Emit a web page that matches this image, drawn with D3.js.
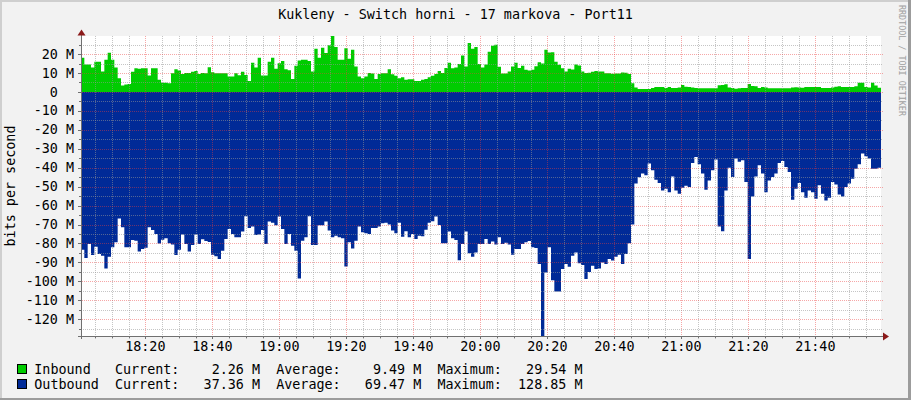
<!DOCTYPE html>
<html><head><meta charset="utf-8">
<script src="https://cdn.jsdelivr.net/npm/d3@7/dist/d3.min.js"></script>
<style>
body{margin:0;background:#f2f2f2;overflow:hidden}
text{font-family:"DejaVu Sans Mono",monospace;white-space:pre}
</style>
</head><body>
<svg id="chart" width="911" height="400"></svg>
<script>
const title = "Kukleny - Switch horni - 17 markova - Port11";
const yAxisTitle = "bits per second";
const credit = "RRDTOOL / TOBI OETIKER";
const startTime = Date.UTC(2024, 0, 1, 18, 0, 48);
const endTime = Date.UTC(2024, 0, 1, 21, 59, 36);

// Mbit/s, 240 evenly spaced samples across the time window
const inbound = [
18,14.5,14.5,12.9,15.9,15.9,10.8,17,20.7,17,
12.9,7.2,3.4,3.9,4.2,10.6,12.5,12.2,12.5,12.5,
8.7,12.5,12.5,6.4,4.9,4.9,4.6,9.9,12,11.3,
9.5,10,10,10.6,11,9.5,10,9.9,13,10.4,
9.9,9.9,9.9,9.9,8.1,8.1,9.9,8.8,10.6,9,
5.8,15.4,12.9,18,8.7,8.7,16,18,12.2,15.2,
16.4,12,11.5,6.9,13.8,16.6,17,17,16.4,10.8,
22.8,18,23.3,20.5,24.7,29.54,23.7,17,17,23.1,
17.5,22.3,13.4,8.1,7.2,8.1,10,9.7,6.9,9.5,
9.9,9.9,12,9.4,8.5,7.2,7.8,6.4,6.7,6.7,
5.8,5.8,6.4,6.9,7.8,8.5,9.5,11,10,12.7,
15.4,12.5,12.9,14.7,19.3,13.4,25.8,22.8,23.7,14.7,
12.9,14.5,21.2,24.4,24.9,13.3,9.7,9.7,10.8,13.4,
15.4,12.7,13.8,11.7,11.3,11.7,13.6,15.7,15,22.3,
20.8,21,15.9,14.3,12.5,10.8,12.2,11.8,14.5,14,
10.8,10,10.2,10.6,11,10.8,10.8,9.9,9.9,9.6,
9.7,9.7,10.3,10.2,9.5,4.6,2.3,1.6,1.6,1.6,
1.6,2.1,2.6,2.6,2.6,2.1,2.6,2.1,2.1,2.4,
3.7,2.8,2.6,2.3,2.1,1.9,1.9,1.9,1.9,1.9,
1.9,3.5,3.7,4.0,2.4,2.1,1.7,2.0,2.1,2.1,
4.2,3.2,3.0,2.1,2.6,2.3,1.9,1.9,1.9,1.9,
1.9,1.9,1.9,2.3,2.5,2.3,2.2,2.6,2.6,2.6,
2.6,2.6,2.1,2.1,2.1,2.4,2.8,3.0,2.6,2.6,
2.6,2.6,3.0,4.8,4.8,2.6,2.3,4.8,3.4,2.26
];
const outbound = [
83.3,87.7,80.3,86.1,81.7,85.6,86.5,93.2,87,82,
79.4,66.8,71.4,82,82,78.2,78.5,84.2,82.9,82.2,
71.4,72.9,75,80,78,77.3,79.9,80.6,86.1,83.3,
75.3,80.3,84.2,80.8,75.3,80.3,77.8,78.7,79.2,85.9,
86.8,88.2,83.8,77.6,72.3,75,76.7,76.7,73.7,65.6,
71.8,71.1,75.5,75.2,72.9,80.3,68.4,69.1,70.4,65.8,
72.3,80.3,75,81.2,83.8,98.5,78.5,76.7,65.6,80.8,
80.8,70.4,70.4,68.4,73.2,76.7,75.9,76.7,77.3,92.1,
79.4,82.6,78.5,71.1,74.1,74.6,75,71.8,71.8,71.1,
69.3,69,70,73.2,74.6,69,76.4,73.6,76.7,75,
77.6,75.9,76.2,72.7,69,68.3,65.8,70.2,79.9,79.9,
73.7,77.3,78.2,88.8,80.3,73.7,85.1,87,84.7,80.3,
80.3,77.6,80.3,79,80.6,76.7,80.3,79.6,80.6,85.9,
82.9,82.9,80.3,79.4,78.7,82,82.4,90.9,128.85,95.3,
82,99.4,105.4,105.4,93.5,90.9,92.3,86.5,84.7,90.5,
91.4,98.8,95,91.8,93.5,93.2,90,90.9,88.2,89,
87,85.9,90.9,85.6,79.9,70,48.4,45,43.1,44,
37.8,41.4,46.3,48.1,52,51.1,52.9,44.6,52,53.8,
50.6,49.5,50.2,37.5,34.3,38.2,43.1,51.6,46.7,41.4,
35.7,71.1,73.6,52,40,44.9,35.2,36.9,36.1,47.6,
88.2,55.2,44.6,38.7,43.1,52.9,46.7,44.9,43.1,37.5,
36.4,39.6,42.3,56.9,51.1,48.1,52.9,55.9,52,52.9,
56.4,49.3,53.8,57.3,55.9,47.6,48.8,54.1,55.2,50.2,
48.4,45.8,40.5,38.2,32.5,33.9,35.2,40.5,40.5,40
];
const yMajorTicks = [20,10,0,-10,-20,-30,-40,-50,-60,-70,-80,-90,-100,-110,-120];
const yMinorTicks = [25,15,5,-5,-15,-25,-35,-45,-55,-65,-75,-85,-95,-105,-115,-125];
const seriesNames = ["Inbound","Outbound"];
const seriesColors = ["#00CC00","#002A97"];
const currentVals = ["2.26","37.36"];
const averageVals = ["9.49","69.47"];
const maximumVals = ["29.54","128.85"];
const yMin = -128.85, yMax = 29.54;

const svg = d3.select("#chart");
const W = 911, H = 400;
const FS = 13.4;

// frame
svg.append("rect").attr("width",W).attr("height",H).attr("fill","#f2f2f2");
svg.append("rect").attr("x",0).attr("y",0).attr("width",W).attr("height",2).attr("fill","#cfcfcf");
svg.append("rect").attr("x",0).attr("y",0).attr("width",2).attr("height",H).attr("fill","#cfcfcf");
svg.append("rect").attr("x",W-3).attr("y",0).attr("width",3).attr("height",H).attr("fill","#9c9c9c");
svg.append("rect").attr("x",0).attr("y",H-2).attr("width",W).attr("height",2).attr("fill","#9c9c9c");

const L = 81, R = 881, T = 36, B = 336;
const x = d3.scaleUtc().domain([startTime, endTime]).range([L, R]);
const y = d3.scaleLinear().domain([yMin, yMax]).range([B, T]);

svg.append("rect").attr("x",L).attr("y",T).attr("width",R-L).attr("height",B-T).attr("fill","#ffffff");

const step = (endTime - startTime) / inbound.length;
const tOf = i => startTime + i*step;
const inData = inbound.map((v,i)=>({t:tOf(i), v}));
inData.push({t:endTime, v:inbound[inbound.length-1]});
const outData = outbound.map((v,i)=>({t:tOf(i), v:-v}));
outData.push({t:endTime, v:-outbound[outbound.length-1]});

const area = d3.area().curve(d3.curveStepAfter).x(d=>x(d.t)).y0(y(0)).y1(d=>y(d.v));
svg.append("path").datum(outData).attr("d",area).attr("fill",seriesColors[1]);
svg.append("path").datum(inData).attr("d",area).attr("fill",seriesColors[0]);

// grid
const g = svg.append("g").attr("shape-rendering","crispEdges");
const minorCol = "rgba(150,150,150,0.55)", majorCol = "rgba(235,60,60,0.45)";
const xMinor = d3.utcMinute.every(5).range(new Date(startTime), new Date(endTime));
const xMajor = d3.utcMinute.every(20).range(new Date(startTime), new Date(endTime));
xMinor.forEach(d=>{
  const isMaj = d.getUTCMinutes()%20===0;
  const xx = Math.round(x(d))+0.5;
  g.append("line").attr("x1",xx).attr("x2",xx)
   .attr("y1",T).attr("y2",B+3)
   .attr("stroke",isMaj?majorCol:minorCol).attr("stroke-dasharray","1,1");
  g.append("line").attr("x1",xx).attr("x2",xx)
   .attr("y1",B).attr("y2",B+(isMaj?3:2)).attr("stroke","#707070");
});
yMinorTicks.forEach(v=>{
  if (v<yMin||v>yMax) return;
  const yy = Math.round(y(v))+0.5;
  g.append("line").attr("x1",L-2).attr("x2",R+2).attr("y1",yy).attr("y2",yy)
   .attr("stroke",minorCol).attr("stroke-dasharray","1,1");
  g.append("line").attr("x1",L-2).attr("x2",L).attr("y1",yy).attr("y2",yy).attr("stroke","#707070");
});
yMajorTicks.forEach(v=>{
  const yy = Math.round(y(v))+0.5;
  g.append("line").attr("x1",L-3).attr("x2",R+2).attr("y1",yy).attr("y2",yy)
   .attr("stroke",majorCol).attr("stroke-dasharray","1,1");
  g.append("line").attr("x1",L-3).attr("x2",L).attr("y1",yy).attr("y2",yy).attr("stroke","#707070");
});

// axes
g.append("line").attr("x1",L+0.5).attr("x2",L+0.5).attr("y1",T-4).attr("y2",B+3).attr("stroke","#707070");
g.append("line").attr("x1",L-3).attr("x2",R+3).attr("y1",B+0.5).attr("y2",B+0.5).attr("stroke","#707070");
svg.append("path").attr("d",`M${L-3.5},${T-0.5} L${L+4.5},${T-0.5} L${L+0.5},${T-6.5} Z`).attr("fill","#8b1a1a");
svg.append("path").attr("d",`M${R+2},${B-3.5} L${R+2},${B+4.5} L${R+8},${B+0.5} Z`).attr("fill","#8b1a1a");

// labels
const fmtT = d3.utcFormat("%H:%M");
xMajor.forEach(d=>{
  svg.append("text").attr("x",x(d)).attr("y",351).attr("text-anchor","middle")
   .attr("font-size",FS).attr("fill","#000").text(fmtT(d));
});
yMajorTicks.forEach(v=>{
  svg.append("text").attr("x",74).attr("y",y(v)+4.6).attr("text-anchor","end")
   .attr("font-size",FS).attr("fill","#000").text(v===0?"0  ":`${v} M`);
});

svg.append("text").attr("x",455.5).attr("y",19).attr("text-anchor","middle")
  .attr("font-size",FS).attr("fill","#000").text(title);
svg.append("text").attr("transform","translate(15,186) rotate(-90)").attr("text-anchor","middle")
  .attr("font-size",FS).attr("fill","#000").text(yAxisTitle);
svg.append("text").attr("transform","translate(899,5) rotate(90)").attr("text-anchor","start")
  .attr("font-size",8.4).attr("fill","#a0a0a0").text(credit);

// legend
seriesNames.forEach((n,i)=>{
  const yy = 364 + i*15;
  svg.append("rect").attr("x",17.5).attr("y",yy+0.5).attr("width",9).attr("height",9)
    .attr("fill",seriesColors[i]).attr("stroke","#000").attr("stroke-width",1);
  const s = n.padEnd(10) + "Current:" + currentVals[i].padStart(8) + " M  Average:" +
    averageVals[i].padStart(8) + " M  Maximum:" + maximumVals[i].padStart(8) + " M";
  svg.append("text").attr("x",34.3).attr("y",yy+9.5).attr("font-size",FS).attr("fill","#000").text(s);
});
</script>
</body></html>
